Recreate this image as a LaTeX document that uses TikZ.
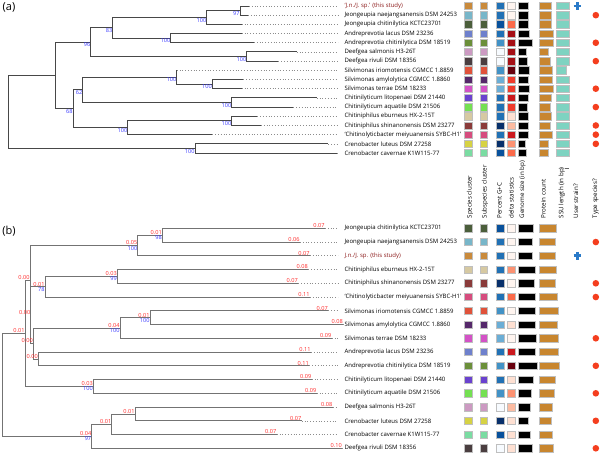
\documentclass[tikz,border=0pt]{standalone}
\usepackage{fontspec}
\setmainfont{Open Sans}
\usetikzlibrary{positioning, calc}

% species / subspecies cluster colours
\definecolor{spJn}{HTML}{C98A3C}
\definecolor{spJna}{HTML}{78B6C9}
\definecolor{spJch}{HTML}{4B5E3B}
\definecolor{spAla}{HTML}{6E80CC}
\definecolor{spAch}{HTML}{6B8F3A}
\definecolor{spDsa}{HTML}{CC9AC2}
\definecolor{spDri}{HTML}{4A3E40}
\definecolor{spSir}{HTML}{E0523A}
\definecolor{spSam}{HTML}{55286A}
\definecolor{spSte}{HTML}{D352C6}
\definecolor{spCli}{HTML}{6A42CF}
\definecolor{spCaq}{HTML}{74E052}
\definecolor{spCeb}{HTML}{D6C9A2}
\definecolor{spCsh}{HTML}{8A3B3A}
\definecolor{spCme}{HTML}{D64C7E}
\definecolor{spClu}{HTML}{D6D244}
\definecolor{spCca}{HTML}{7ADCA2}
% G+C scale
\definecolor{gcA}{HTML}{08306B}
\definecolor{gcB}{HTML}{08519C}
\definecolor{gcC}{HTML}{2171B5}
\definecolor{gcD}{HTML}{4292C6}
\definecolor{gcE}{HTML}{6BAED6}
\definecolor{gcF}{HTML}{F7FBFF}
% delta scale
\definecolor{dlA}{HTML}{67000D}
\definecolor{dlB}{HTML}{A50F15}
\definecolor{dlC}{HTML}{CB181D}
\definecolor{dlD}{HTML}{EF3B2C}
\definecolor{dlE}{HTML}{FB6A4A}
\definecolor{dlF}{HTML}{FC9272}
\definecolor{dlG}{HTML}{FCBBA1}
\definecolor{dlH}{HTML}{FEE0D2}
\definecolor{dlI}{HTML}{FFF5F0}
% others
\definecolor{protbar}{HTML}{C8862F}
\definecolor{ssubar}{HTML}{7ED3C1}
\definecolor{bootblue}{HTML}{3C3CFF}
\definecolor{lenred}{HTML}{FF2A2A}
\definecolor{studyred}{HTML}{8B1A1A}
\definecolor{userblue}{HTML}{2A7AC8}
\definecolor{typered}{HTML}{F43E1E}

\begin{document}
\begin{tikzpicture}[x=1pt, y=-1pt,
    branchA/.style={draw=black!72, line width=0.9pt},
    branchB/.style={draw=black!55, line width=0.8pt},
    tipdots/.style={draw=black!45, line width=0.6pt, dash pattern=on 0.7pt off 2.1pt, shorten >=6pt},
    leaf/.style={font=\fontsize{6}{7}\selectfont, inner sep=0.4pt, anchor=west},
    boot/.style={font=\fontsize{5.6}{6}\selectfont, text=bootblue, inner sep=0.3pt, anchor=north east},
    blen/.style={font=\fontsize{5.6}{6}\selectfont, text=lenred, inner sep=0.3pt, anchor=south east},
    cell/.style={draw=black!25, line width=0.5pt},
    head/.style={font=\fontsize{6.2}{7}\selectfont, rotate=90, anchor=west, inner sep=0.5pt},
    panel/.style={font=\fontsize{11}{12}\selectfont, inner sep=0pt},
    userx/.style={draw=userblue, line width=2.6pt},
    typedot/.style={fill=typered}
  ]
  \useasboundingbox (0,0) rectangle (600,454);

  % panel labels
  \node[panel] (pa) at (9,7.5) {(a)};
  \node[panel] (pb) at (9,231) {(b)};

  % ---------- tree (a): leaves, labels and data columns
  \foreach \i/\tx/\sp/\gc/\dl/\gs/\pc/\ssu/\name in {
      1/249/spJn/gcC/dlI/10/11.3/13.3/{\textcolor{studyred}{`J.n./J. sp.' (this study)}},
      2/248/spJna/gcC/dlI/10/11.3/13.3/{Jeongeupia naejangsanensis DSM 24253},
      3/241.7/spJch/gcB/dlE/10/11.3/13.3/{Jeongeupia chitinilytica KCTC23701},
      4/241.7/spAla/gcC/dlB/11/13.3/13.3/{Andreprevotia lacus DSM 23236},
      5/254/spAch/gcD/dlB/14/13.3/13.3/{Andreprevotia chitinilytica DSM 18519},
      6/296.7/spDsa/gcF/dlB/7.7/9/13.3/{Deefgea salmonis H3-26T},
      7/278.3/spDri/gcF/dlB/9.3/10.7/13.3/{Deefgea rivuli DSM 18356},
      8/176.7/spSir/gcD/dlA/10.7/12.3/10.7/{Silvimonas iriomotensis CGMCC 1.8859},
      9/243.3/spSam/gcE/dlD/10/12.3/13.3/{Silvimonas amylolytica CGMCC 1.8860},
      10/241.7/spSte/gcE/dlD/10.7/14/13.3/{Silvimonas terrae DSM 18233},
      11/316.7/spCli/gcC/dlC/10/11.7/13.3/{Chitinilyticum litopenaei DSM 21440},
      12/293.3/spCaq/gcC/dlD/9/10.7/13.3/{Chitinilyticum aquatile DSM 21506},
      13/257.3/spCeb/gcC/dlH/10/11.7/13.3/{Chitiniphilus eburneus HX-2-15T},
      14/261/spCsh/gcA/dlG/10/10.7/13.3/{Chitiniphilus shinanonensis DSM 23277},
      15/212.3/spCme/gcC/dlC/10/12.3/13.3/{`Chitinolyticbacter meiyuanensis SYBC-H1'},
      16/328.3/spClu/gcA/dlF/7.3/8.7/13.3/{Crenobacter luteus DSM 27258},
      17/336.7/spCca/gcB/dlE/8/9/13.3/{Crenobacter cavernae K1W115-77}}
  {
    \pgfmathsetmacro\ry{6+9.19*(\i-1)}
    \coordinate (at\i) at (\tx,\ry);
    \node[leaf] (al\i) at (344,\ry) {\name};
    \draw[tipdots] (at\i) -- (al\i.west);
    \path[cell, fill=\sp] (464.2,\ry-3.7) rectangle ++(7.6,7.4);
    \path[cell, fill=\sp] (479.9,\ry-3.7) rectangle ++(7.6,7.4);
    \path[cell, fill=\gc] (496.2,\ry-3.7) rectangle ++(7.6,7.4);
    \path[cell, fill=\dl] (507.4,\ry-3.7) rectangle ++(7.6,7.4);
    \path[cell, fill=black] (518.3,\ry-3.7) rectangle ++(\gs,7.4);
    \path[cell, fill=protbar] (539.5,\ry-3.7) rectangle ++(\pc,7.4);
    \path[cell, fill=ssubar] (556,\ry-3.7) rectangle ++(\ssu,7.4);
  }

  % internal nodes of tree (a)
  \coordinate (a97)  at (240,10.6);
  \coordinate (aJe)  at (206.7,17.49);
  \coordinate (aAn)  at (170.7,38.17);
  \coordinate (a83)  at (112.7,27.83);
  \coordinate (aDe)  at (246.7,56.55);
  \coordinate (a96)  at (90.7,42.19);
  \coordinate (aSv2) at (212.3,84.12);
  \coordinate (aSv)  at (176.7,77.22);
  \coordinate (aCl)  at (231.7,102.5);
  \coordinate (a62)  at (82.7,89.86);
  \coordinate (aCp)  at (231.7,120.88);
  \coordinate (aCh)  at (127.7,127.77);
  \coordinate (a68)  at (73,108.8);
  \coordinate (aUp)  at (55,75.5);
  \coordinate (aCr)  at (195,148.45);
  \coordinate (aRoot) at (8,111.97);

  \foreach \p/\c in {a97/at1, a97/at2, aJe/a97, aJe/at3, aAn/at4, aAn/at5,
      a83/aJe, a83/aAn, aDe/at6, aDe/at7, a96/a83, a96/aDe,
      aSv2/at9, aSv2/at10, aSv/at8, aSv/aSv2, aCl/at11, aCl/at12,
      a62/aSv, a62/aCl, aCp/at13, aCp/at14, aCh/aCp, aCh/at15,
      a68/a62, a68/aCh, aUp/a96, aUp/a68, aCr/at16, aCr/at17,
      aRoot/aUp, aRoot/aCr}
    \draw[branchA] (\p) |- (\c);

  % bootstrap values (a)
  \foreach \n/\v in {a97/97, aJe/100, aAn/100, a83/83, aDe/100, a96/96,
      aSv2/100, aSv/100, aCl/100, a62/62, aCp/100, aCh/100, a68/68, aCr/100}
    \node[boot] (\n-bs) at (\n) {\v};

  % column headers
  \node[head] (hSpc) at (470,219) {Species cluster};
  \node[head] (hSub) at (485,219) {Subspecies cluster};
  \node[head] (hGC)  at (499.5,219) {Percent G+C};
  \node[head] (hDel) at (511.3,219) {delta statistics};
  \node[head] (hGen) at (522.5,219) {Genome size (in bp)};
  \node[head] (hPro) at (543.3,219) {Protein count};
  \node[head] (hSSU) at (561.7,219) {SSU length (in bp)};
  \node[head] (hUsr) at (576,219) {User strain?};
  \node[head] (hTyp) at (595.7,219) {Type species?};
  \draw[black!60, line width=0.5pt] (564.6,168) -- (568.6,168);

  % user strain and type species marks (a)
  \draw[userx] (577.3,2.2) -- (577.3,9.8) (573.5,6) -- (581.1,6);
  \foreach \i in {2,5,7,10,12,14,15,16}
    \fill[typedot] (595.8,{6+9.19*(\i-1)}) circle (3.3);

  % ---------- tree (b): leaves, labels and data columns
  \foreach \i/\tx/\bl/\sp/\gc/\dl/\gs/\pc/\name in {
      1/325/0.07/spJch/gcB/dlI/15/16.3/{Jeongeupia chitinilytica KCTC23701},
      2/300/0.06/spJna/gcC/dlI/14/15.7/{Jeongeupia naejangsanensis DSM 24253},
      3/310/0.07/spJn/gcC/dlI/14/15.7/{\textcolor{studyred}{J.n./J. sp. (this study)}},
      4/308.3/0.08/spCeb/gcC/dlF/16.7/16.7/{Chitiniphilus eburneus HX-2-15T},
      5/298.3/0.07/spCsh/gcA/dlI/16/15.7/{Chitiniphilus shinanonensis DSM 23277},
      6/310/0.11/spCme/gcC/dlE/16.7/17.7/{`Chitinolyticbacter meiyuanensis SYBC-H1'},
      7/328.3/0.07/spSir/gcD/dlI/17.3/18.3/{Silvimonas iriomotensis CGMCC 1.8859},
      8/343.3/0.08/spSam/gcE/dlH/17.3/17.3/{Silvimonas amylolytica CGMCC 1.8860},
      9/331.7/0.09/spSte/gcE/dlI/18.3/19/{Silvimonas terrae DSM 18233},
      10/311/0.11/spAla/gcC/dlC/16.7/18.3/{Andreprevotia lacus DSM 23236},
      11/309.3/0.11/spAch/gcD/dlA/19.3/19.3/{Andreprevotia chitinilytica DSM 18519},
      12/311.7/0.09/spCli/gcC/dlH/15/16/{Chitinilyticum litopenaei DSM 21440},
      13/316.7/0.09/spCaq/gcD/dlF/13.3/14.3/{Chitinilyticum aquatile DSM 21506},
      14/332.7/0.08/spDsa/gcF/dlG/12.3/12.7/{Deefgea salmonis H3-26T},
      15/301.7/0.07/spClu/gcA/dlH/10.3/11.7/{Crenobacter luteus DSM 27258},
      16/276.7/0.07/spCca/gcB/dlH/12.3/12.7/{Crenobacter cavernae K1W115-77},
      17/342.3/0.10/spDri/gcF/dlH/14/14/{Deefgea rivuli DSM 18356}}
  {
    \pgfmathsetmacro\ry{228.3+13.75*(\i-1)}
    \coordinate (bt\i) at (\tx,\ry);
    \node[leaf] (bl\i) at (344,\ry) {\name};
    \draw[tipdots] (bt\i) -- (bl\i.west);
    \node[blen] (bt\i-len) at (bt\i) {\bl};
    \path[cell, fill=\sp] (464.2,\ry-3.7) rectangle ++(7.6,7.4);
    \path[cell, fill=\sp] (479.9,\ry-3.7) rectangle ++(7.6,7.4);
    \path[cell, fill=\gc] (496.2,\ry-3.7) rectangle ++(7.6,7.4);
    \path[cell, fill=\dl] (507.4,\ry-3.7) rectangle ++(7.6,7.4);
    \path[cell, fill=black] (518.3,\ry-3.7) rectangle ++(\gs,7.4);
    \path[cell, fill=protbar] (539.5,\ry-3.7) rectangle ++(\pc,7.4);
  }

  % internal nodes of tree (b)
  \coordinate (bJe2) at (162.3,235.18);
  \coordinate (bJe)  at (137.7,245.49);
  \coordinate (bCp)  at (117.3,276.43);
  \coordinate (bCx)  at (45,286.74);
  \coordinate (bSv2) at (150,317.68);
  \coordinate (bSv)  at (120,327.99);
  \coordinate (bAn)  at (38.3,358.93);
  \coordinate (bW)   at (33.3,343.46);
  \coordinate (bY)   at (30.8,315.1);
  \coordinate (bX)   at (30,280.3);
  \coordinate (bCl)  at (93.3,386.43);
  \coordinate (bUp)  at (25,333.37);
  \coordinate (bDC)  at (135,413.93);
  \coordinate (bDCc) at (111.7,424.24);
  \coordinate (bLo)  at (91.7,436.27);
  \coordinate (bRoot) at (2,384.82);

  \foreach \p/\c in {bJe2/bt1, bJe2/bt2, bJe/bJe2, bJe/bt3, bCp/bt4, bCp/bt5,
      bCx/bCp, bCx/bt6, bSv2/bt7, bSv2/bt8, bSv/bSv2, bSv/bt9,
      bAn/bt10, bAn/bt11, bW/bSv, bW/bAn, bY/bCx, bY/bW, bX/bJe, bX/bY,
      bCl/bt12, bCl/bt13, bUp/bX, bUp/bCl, bDC/bt14, bDC/bt15,
      bDCc/bDC, bDCc/bt16, bLo/bDCc, bLo/bt17, bRoot/bUp, bRoot/bLo}
    \draw[branchB] (\p) |- (\c);

  % branch lengths (b)
  \foreach \n/\v in {bJe2/0.01, bJe/0.05, bCp/0.03, bCx/0.01, bSv2/0.01, bSv/0.04,
      bAn/0.00, bW/0.00, bY/0.00, bX/0.00, bCl/0.03, bUp/0.01,
      bDC/0.01, bDCc/0.01, bLo/0.04}
    \node[blen] (\n-len) at (\n) {\v};
  % bootstrap values (b)
  \foreach \n/\v in {bJe2/98, bJe/100, bCp/99, bCx/78, bSv2/100, bSv/100,
      bCl/100, bLo/97}
    \node[boot] (\n-bs) at (\n) {\v};

  % user strain and type species marks (b)
  \draw[userx] (577.3,252) -- (577.3,259.6) (573.5,255.8) -- (581.1,255.8);
  \foreach \i in {2,5,6,9,11,13,15,17}
    \fill[typedot] (595.8,{228.3+13.75*(\i-1)}) circle (3.3);
\end{tikzpicture}
\end{document}
